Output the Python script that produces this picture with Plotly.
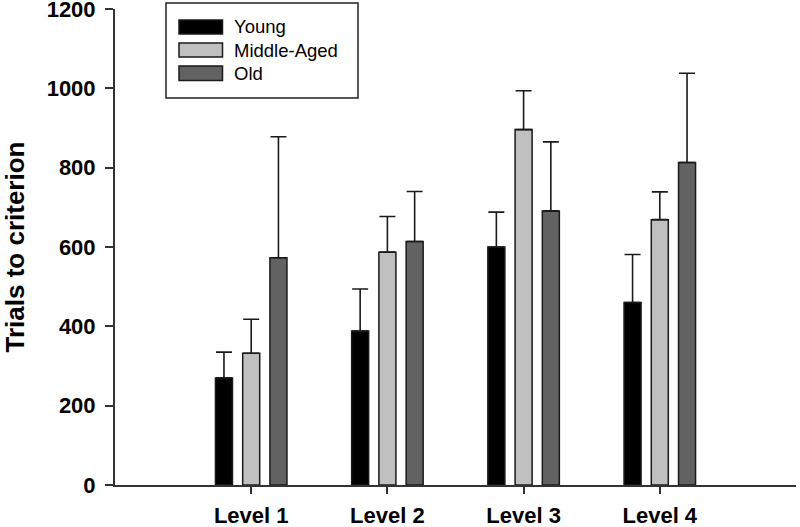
import plotly.graph_objects as go

levels = ["Level 1", "Level 2", "Level 3", "Level 4"]
groups = ["Young", "Middle-Aged", "Old"]
means = {
    "Young": [270, 388, 600, 460],
    "Middle-Aged": [332, 587, 896, 669],
    "Old": [573, 614, 691, 813],
}
upper = {
    "Young": [335, 494, 688, 581],
    "Middle-Aged": [418, 677, 994, 739],
    "Old": [878, 740, 865, 1038],
}
colors = {"Young": "#000000", "Middle-Aged": "#c0c0c0", "Old": "#626262"}
y_ticks = [0, 200, 400, 600, 800, 1000, 1200]

FONT = "Arial, Liberation Sans, sans-serif"

fig = go.Figure()
for g in groups:
    fig.add_trace(go.Bar(
        x=levels, y=means[g], name=g,
        marker=dict(color=colors[g], line=dict(color="#1a1a1a", width=1.5)),
        error_y=dict(type="data", symmetric=False,
                     array=[u - m for u, m in zip(upper[g], means[g])],
                     arrayminus=[0] * len(levels),
                     color="#1a1a1a", thickness=1.6, width=8),
        showlegend=False,
    ))

# plot area pixel geometry
L, R, T, B = 115, 796, 9, 485
W, H = R - L, B - T
def px(x):
    return (x - L) / W
def py(y):
    return (B - y) / H

shapes = [dict(type="rect", xref="paper", yref="paper",
               x0=px(166), x1=px(358), y0=py(3), y1=py(98),
               line=dict(color="#222", width=1.5), fillcolor="white")]
annotations = []
sw_y = [(20, 34), (43, 57), (66, 80.5)]
for g, (y0, y1) in zip(groups, sw_y):
    shapes.append(dict(type="rect", xref="paper", yref="paper",
                       x0=px(179), x1=px(222.5), y0=py(y0), y1=py(y1),
                       line=dict(color="#1a1a1a", width=1.5), fillcolor=colors[g]))
    annotations.append(dict(xref="paper", yref="paper", x=px(232), y=py((y0 + y1) / 2),
                            text=g, showarrow=False, xanchor="left", yanchor="middle",
                            font=dict(family=FONT, size=18.5, color="black")))

fig.update_layout(
    width=800, height=527,
    margin=dict(l=L, r=800 - R, t=T, b=527 - B, autoexpand=False),
    paper_bgcolor="white", plot_bgcolor="white",
    barmode="group", bargap=0.4, bargroupgap=0.375,
    shapes=shapes, annotations=annotations,
    font=dict(family=FONT, color="black"),
)
fig.update_xaxes(
    type="category", range=[-1, 4], showgrid=False, zeroline=False,
    showline=True, linecolor="#333", linewidth=2,
    ticks="outside", ticklen=7, tickwidth=1.5, tickcolor="#333",
    tickfont=dict(family=FONT, size=22, color="black", weight="bold"),
    ticklabelstandoff=3, automargin=False, ticklabeloverflow="allow",
)
fig.update_yaxes(
    range=[0, 1200], tickvals=y_ticks, showgrid=False, zeroline=False,
    showline=True, linecolor="#333", linewidth=2,
    ticks="outside", ticklen=8, tickwidth=1.5, tickcolor="#333",
    tickfont=dict(family=FONT, size=22, color="black", weight="bold"),
    ticklabelstandoff=5, automargin=False, ticklabeloverflow="allow",
    title=dict(text="Trials to criterion", standoff=21,
               font=dict(family=FONT, size=26, color="black", weight="bold")),
)
fig.write_html("out.html", config={"displayModeBar": False},
               post_script="document.body.style.margin='0';")
